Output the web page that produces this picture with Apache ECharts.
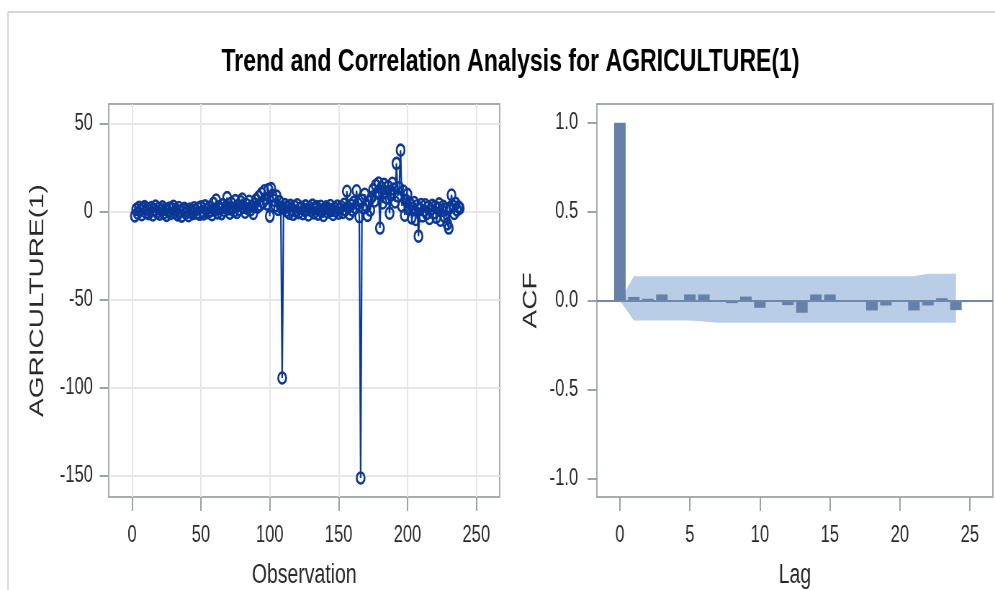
<!DOCTYPE html>
<html>
<head>
<meta charset="utf-8">
<script src="https://cdn.jsdelivr.net/npm/echarts@6/dist/echarts.min.js"></script>
<style>
  html, body { margin: 0; padding: 0; background: #fff; overflow: hidden; }
  #wrap { width: 995px; height: 590px; overflow: hidden; }
  /* the panel is laid out wide and condensed horizontally, like the SAS output */
  #chart { width: 1382px; height: 590px; transform: scaleX(0.72); transform-origin: 0 0; }
</style>
</head>
<body>
<div id="wrap"><div id="chart"></div></div>
<script>
// First differences of AGRICULTURE, starting at observation 2
const firstObs = 2;
const agriDiff = [
  -2.5, 1.2, -1.0, 2.4, 0.8, -1.8, 1.9, 2.8, -0.6, 1.5,
  -1.2, 0.6, 2.2, -2.0, 1.0, 3.1, -0.4, 1.7, -1.5, 0.9,
  2.6, -0.8, 1.3, -2.2, 0.4, 2.0, -1.1, 1.6, 3.0, -0.5,
  0.9, -1.9, 2.3, 0.2, -2.6, 1.1, 1.8, -1.0, 0.5, -2.4,
  1.4, 0.3, -1.3, 2.1, 0.7, -0.9, 1.9, -1.6, 2.6, 0.1,
  -1.4, 3.2, 1.0, -0.7, 2.4, 0.4, -1.8, 4.6, 1.2, 6.5,
  -0.8, 2.7, 1.5, -1.2, 3.9, 0.6, 2.2, 7.9, 1.4, -1.0,
  4.8, 2.0, 0.3, 6.2, -0.6, 3.4, 1.1, 5.5, 7.1, 2.3,
  -0.4, 4.0, 1.6, 5.8, 0.9, 3.1, -1.1, 4.4, 6.6, 2.5,
  8.4, 3.7, 10.2, 5.1, 11.8, 7.3, 4.2, 12.5, -2.6, 13.0,
  9.1, 6.4, 3.3, 8.7, 1.2, 5.6, 2.4, -94.5, 1.8, 3.9,
  0.4, 2.6, -0.9, 3.5, 1.1, -1.6, 2.9, 0.2, 3.8, -0.7,
  1.7, 2.4, -1.3, 0.8, 3.2, 1.0, -2.0, 2.2, 0.5, 3.6,
  -0.8, 1.4, 2.8, -1.5, 0.9, 3.0, 0.1, -2.3, 1.9, 2.6,
  -0.4, 1.2, 3.4, 0.6, -1.7, 2.0, 0.3, 3.1, -1.0, 1.5,
  2.7, -0.6, 4.1, 1.0, 11.5, 2.3, -1.4, 3.6, 0.8, 5.2,
  2.1, 11.8, 4.4, -3.0, -151.2, 6.3, 1.9, 9.8, 3.2, -2.2,
  5.7, 0.7, 8.1, 12.3, 6.0, 14.8, 10.5, 16.2, -9.4, 13.6,
  4.8, 15.4, 11.2, 7.6, 14.1, -1.0, 9.3, 16.0, 12.7, 5.4,
  27.3, 8.8, 13.5, 34.8, 3.1, 11.6, -2.1, 6.4, 9.7, 1.3,
  4.2, -3.6, 2.0, 5.1, -4.5, 3.3, -14.0, 1.2, 4.0, -2.5,
  0.6, 3.8, -1.2, 2.4, -4.0, 1.0, 3.5, -0.8, 2.6, -3.3,
  1.9, 4.3, -5.0, 0.7, 3.0, -2.9, 1.5, -7.0, -9.4, 2.2,
  9.4, 3.1, -1.1, 4.6, 0.8, 2.7, 1.9
];

// Autocorrelations by lag, with the two-standard-error band
const acfLags = [0, 1, 2, 3, 4, 5, 6, 7, 8, 9, 10, 11, 12, 13, 14, 15, 16, 17, 18, 19, 20, 21, 22, 23, 24];
const acfValues = [1.0, 0.02, 0.01, 0.034, 0.002, 0.034, 0.034, 0.001, -0.015, 0.022, -0.041, 0.001, -0.026,
  -0.069, 0.034, 0.034, 0.001, 0.001, -0.056, -0.028, -0.007, -0.056, -0.028, 0.013, -0.054];
const bandUpper = [0, 0.137, 0.137, 0.137, 0.137, 0.137, 0.137, 0.137, 0.137, 0.137, 0.137, 0.137, 0.137,
  0.137, 0.137, 0.137, 0.137, 0.137, 0.137, 0.137, 0.137, 0.137, 0.15, 0.15, 0.15];
const bandLower = [0, -0.112, -0.112, -0.112, -0.112, -0.112, -0.118, -0.125, -0.125, -0.125, -0.125, -0.125,
  -0.125, -0.125, -0.125, -0.125, -0.125, -0.125, -0.125, -0.125, -0.125, -0.125, -0.125, -0.125, -0.125];

// Tick positions
const obsTicks = [0, 50, 100, 150, 200, 250];
const levelTicks = [-150, -100, -50, 0, 50];
const lagTicks = [0, 5, 10, 15, 20, 25];
const acfTicks = [-1, -0.5, 0, 0.5, 1];

const FONT = '"Liberation Sans", Arial, Helvetica, sans-serif';
const TEXT = '#2a2a2a';
const TICK = '#9aa2a8';
const FRAME = '#a6adb2';
const BLUE = '#0b3896';

const seriesPoints = agriDiff.map((v, i) => [firstObs + i, v]);
const acfPoints = acfLags.map((k, i) => [k, acfValues[i]]);

function axisCommon(ticks, tickLen, labelMargin, fmt) {
  return {
    type: 'value',
    axisLine: { show: false, onZero: false },
    axisTick: { show: true, length: tickLen, customValues: ticks, lineStyle: { color: TICK, width: 2 } },
    axisLabel: {
      customValues: ticks, margin: labelMargin, fontSize: 23, color: TEXT, fontFamily: FONT,
      formatter: fmt || (v => String(v))
    },
    nameTextStyle: { fontSize: 27, color: TEXT, fontFamily: FONT }
  };
}

const gridBase = {
  top: 104, height: 393, show: true, borderColor: FRAME, borderWidth: 2,
  backgroundColor: 'transparent', containLabel: false, outerBoundsMode: 'none'
};

const chart = echarts.init(document.getElementById('chart'));
chart.setOption({
  backgroundColor: '#fff',
  animation: false,
  title: {
    text: 'Trend and Correlation Analysis for AGRICULTURE(1)',
    left: 704, top: 41, textAlign: 'center',
    textStyle: { fontSize: 32, fontWeight: 'bold', color: '#000', fontFamily: FONT }
  },
  graphic: [
    { type: 'line', shape: { x1: 11, y1: 12, x2: 1382, y2: 12 }, style: { stroke: '#d6d6d6', lineWidth: 2 }, silent: true },
    { type: 'line', shape: { x1: 11, y1: 12, x2: 11, y2: 590 }, style: { stroke: '#d6d6d6', lineWidth: 2 }, silent: true }
  ],
  grid: [
    Object.assign({ left: 151, width: 543 }, gridBase),
    Object.assign({ left: 829, width: 550 }, gridBase)
  ],
  xAxis: [
    Object.assign(axisCommon(obsTicks, 14, 27), {
      gridIndex: 0, min: -17, max: 267,
      name: 'Observation', nameLocation: 'middle', nameGap: 65,
      splitLine: { show: true, lineStyle: { color: '#e6e6e6', width: 2 } }
    }),
    Object.assign(axisCommon(lagTicks, 14, 27), {
      gridIndex: 1, min: -1.64, max: 26.64,
      name: 'Lag', nameLocation: 'middle', nameGap: 65,
      splitLine: { show: false }
    })
  ],
  yAxis: [
    Object.assign(axisCommon(levelTicks, 12.5, 22), {
      gridIndex: 0, min: -162, max: 61,
      name: 'AGRICULTURE(1)', nameLocation: 'middle', nameGap: 85, nameRotate: 90,
      nameTextStyle: { fontSize: 28, color: TEXT, fontFamily: FONT },
      splitLine: { show: true, lineStyle: { color: '#e6e6e6', width: 2 } }
    }),
    Object.assign(axisCommon(acfTicks, 13, 26, v => v.toFixed(1)), {
      gridIndex: 1, min: -1.105, max: 1.105,
      name: 'ACF', nameLocation: 'middle', nameGap: 78, nameRotate: 90,
      nameTextStyle: { fontSize: 28, color: TEXT, fontFamily: FONT },
      splitLine: { show: false }
    })
  ],
  series: [
    {
      name: 'AGRICULTURE(1)',
      type: 'line',
      xAxisIndex: 0, yAxisIndex: 0,
      data: seriesPoints,
      symbol: 'circle', symbolSize: 11,
      lineStyle: { color: BLUE, width: 2.2 },
      itemStyle: { color: 'rgba(0,0,0,0)', borderColor: BLUE, borderWidth: 2.6 },
      z: 3
    },
    {
      name: 'band',
      type: 'custom',
      xAxisIndex: 1, yAxisIndex: 1,
      data: [[0, 0]],
      silent: true,
      z: 1,
      renderItem: function (params, api) {
        const pts = [];
        for (let i = 0; i < acfLags.length; i++) pts.push(api.coord([acfLags[i], bandUpper[i]]));
        for (let i = acfLags.length - 1; i >= 0; i--) pts.push(api.coord([acfLags[i], bandLower[i]]));
        return { type: 'polygon', shape: { points: pts }, style: { fill: '#b9cde6', stroke: null } };
      }
    },
    {
      name: 'ACF',
      type: 'bar',
      xAxisIndex: 1, yAxisIndex: 1,
      data: acfPoints,
      barWidth: 16,
      itemStyle: { color: '#6780a7' },
      z: 2,
      markLine: {
        silent: true, symbol: 'none', label: { show: false },
        lineStyle: { color: '#6f87ad', width: 2, type: 'solid' },
        data: [{ yAxis: 0 }]
      }
    }
  ]
});
</script>
</body>
</html>
